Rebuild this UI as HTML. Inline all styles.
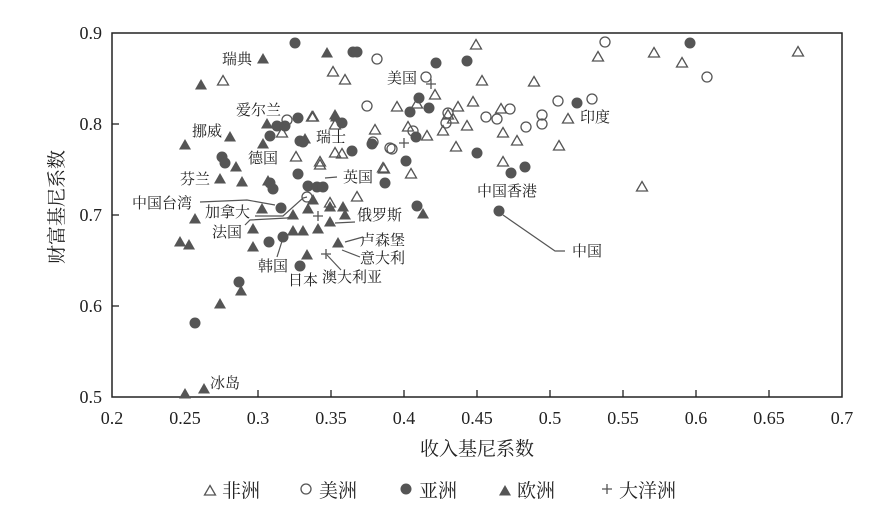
<!DOCTYPE html>
<html><head><meta charset="utf-8"><style>
html,body{margin:0;padding:0;background:#fff;}
svg{display:block;}
.t{font-family:"Liberation Serif","Noto Serif CJK SC",serif;fill:#222;}
</style></head><body>
<svg width="889" height="506" viewBox="0 0 889 506" xmlns="http://www.w3.org/2000/svg">
<defs>
<g id="ft"><path d="M0,-6 L6,4.5 L-6,4.5 Z" fill="#555"/></g>
<g id="ot"><path d="M0,-5.5 L5.5,4 L-5.5,4 Z" fill="none" stroke="#555" stroke-width="1.3"/></g>
<g id="fc"><circle r="5.5" fill="#555"/></g>
<g id="oc"><circle r="5" fill="none" stroke="#555" stroke-width="1.3"/></g>
<g id="pl"><path d="M-5,0 H5 M0,-5 V5" stroke="#555" stroke-width="1.3"/></g>
</defs>
<!-- frame -->
<rect x="112" y="33" width="730" height="364" fill="none" stroke="#222" stroke-width="1.5"/>
<g stroke="#222" stroke-width="1.3">
<line x1="112" y1="306" x2="119" y2="306"/><line x1="112" y1="215" x2="119" y2="215"/><line x1="112" y1="124" x2="119" y2="124"/>
<line x1="185" y1="397" x2="185" y2="390"/><line x1="258" y1="397" x2="258" y2="390"/><line x1="331" y1="397" x2="331" y2="390"/><line x1="404" y1="397" x2="404" y2="390"/><line x1="477" y1="397" x2="477" y2="390"/><line x1="550" y1="397" x2="550" y2="390"/><line x1="623" y1="397" x2="623" y2="390"/><line x1="696" y1="397" x2="696" y2="390"/><line x1="769" y1="397" x2="769" y2="390"/>
</g>
<g class="t" font-size="18" text-anchor="end">
<text x="102" y="403">0.5</text><text x="102" y="312">0.6</text><text x="102" y="221">0.7</text><text x="102" y="130">0.8</text><text x="102" y="39">0.9</text>
</g>
<g class="t" font-size="18" text-anchor="middle">
<text x="112" y="424">0.2</text><text x="185" y="424">0.25</text><text x="258" y="424">0.3</text><text x="331" y="424">0.35</text><text x="404" y="424">0.4</text><text x="477" y="424">0.45</text><text x="550" y="424">0.5</text><text x="623" y="424">0.55</text><text x="696" y="424">0.6</text><text x="769" y="424">0.65</text><text x="842" y="424">0.7</text>
</g>
<text class="t" font-size="19" x="477" y="455" text-anchor="middle">收入基尼系数</text>
<text class="t" font-size="19" x="0" y="0" text-anchor="middle" transform="translate(63,207) rotate(-90)">财富基尼系数</text>
<!-- legend -->
<g class="t" font-size="19">
<use href="#ot" x="210" y="491"/><text x="222" y="497">非洲</text>
<use href="#oc" x="306" y="489"/><text x="319" y="497">美洲</text>
<use href="#fc" x="406" y="489"/><text x="419" y="497">亚洲</text>
<use href="#ft" x="505" y="491"/><text x="517" y="497">欧洲</text>
<use href="#pl" x="607" y="489"/><text x="619" y="497">大洋洲</text>
</g>
<!-- leader lines -->
<g stroke="#555" stroke-width="1.2" fill="none">
<polyline points="200,202 247,200 275,205"/>
<polyline points="255,216 283,216 303,198 307,197"/>
<polyline points="245,225 250,220 287,218 293,215"/>
<polyline points="277,257 283,238"/>
<polyline points="341,270 327,255"/>
<polyline points="363,237 345,242"/>
<polyline points="360,257 342,250"/>
<polyline points="355,222 335,223"/>
<polyline points="337,177 325,178"/>
<polyline points="503,215 555,251 565,251"/>
</g>
<!-- europe -->
<g>
<use href="#ft" x="263" y="59"/><use href="#ft" x="201" y="85"/><use href="#ft" x="327" y="53"/><use href="#ft" x="185" y="145"/><use href="#ft" x="230" y="137"/><use href="#ft" x="267" y="124"/><use href="#ft" x="263" y="144"/><use href="#ft" x="236" y="167"/><use href="#ft" x="220" y="179"/><use href="#ft" x="242" y="182"/><use href="#ft" x="268" y="181"/><use href="#ft" x="262" y="209"/><use href="#ft" x="195" y="219"/><use href="#ft" x="305" y="139"/><use href="#ft" x="336" y="117"/><use href="#ft" x="313" y="200"/><use href="#ft" x="308" y="209"/><use href="#ft" x="330" y="207"/><use href="#ft" x="343" y="207"/><use href="#ft" x="293" y="215"/><use href="#ft" x="345" y="215"/><use href="#ft" x="253" y="229"/><use href="#ft" x="293" y="231"/><use href="#ft" x="303" y="231"/><use href="#ft" x="318" y="229"/><use href="#ft" x="330" y="222"/><use href="#ft" x="253" y="247"/><use href="#ft" x="307" y="255"/><use href="#ft" x="338" y="243"/><use href="#ft" x="180" y="242"/><use href="#ft" x="189" y="245"/><use href="#ft" x="220" y="304"/><use href="#ft" x="241" y="291"/><use href="#ft" x="185" y="394"/><use href="#ft" x="204" y="389"/><use href="#ft" x="335" y="115"/><use href="#ft" x="423" y="214"/>
</g>
<!-- asia -->
<g>
<use href="#fc" x="295" y="43"/><use href="#fc" x="353" y="52"/><use href="#fc" x="357" y="52"/><use href="#fc" x="298" y="118"/><use href="#fc" x="277" y="126"/><use href="#fc" x="285" y="126"/><use href="#fc" x="270" y="136"/><use href="#fc" x="342" y="123"/><use href="#fc" x="300" y="141"/><use href="#fc" x="303" y="142"/><use href="#fc" x="222" y="157"/><use href="#fc" x="225" y="163"/><use href="#fc" x="352" y="151"/><use href="#fc" x="372" y="144"/><use href="#fc" x="298" y="174"/><use href="#fc" x="270" y="183"/><use href="#fc" x="273" y="189"/><use href="#fc" x="308" y="186"/><use href="#fc" x="317" y="187"/><use href="#fc" x="323" y="187"/><use href="#fc" x="281" y="208"/><use href="#fc" x="385" y="183"/><use href="#fc" x="283" y="237"/><use href="#fc" x="269" y="242"/><use href="#fc" x="300" y="266"/><use href="#fc" x="239" y="282"/><use href="#fc" x="195" y="323"/>
<use href="#fc" x="690" y="43"/><use href="#fc" x="436" y="63"/><use href="#fc" x="467" y="61"/><use href="#fc" x="419" y="98"/><use href="#fc" x="410" y="112"/><use href="#fc" x="429" y="108"/><use href="#fc" x="577" y="103"/><use href="#fc" x="416" y="137"/><use href="#fc" x="477" y="153"/><use href="#fc" x="406" y="161"/><use href="#fc" x="525" y="167"/><use href="#fc" x="511" y="173"/><use href="#fc" x="417" y="206"/><use href="#fc" x="499" y="211"/>
</g>
<!-- africa -->
<g>
<use href="#ot" x="223" y="81"/><use href="#ot" x="333" y="72"/><use href="#ot" x="345" y="80"/><use href="#ot" x="312" y="117"/><use href="#ot" x="282" y="133"/><use href="#ot" x="375" y="130"/><use href="#ot" x="335" y="125"/><use href="#ot" x="296" y="157"/><use href="#ot" x="320" y="162"/><use href="#ot" x="320" y="165"/><use href="#ot" x="335" y="153"/><use href="#ot" x="342" y="154"/><use href="#ot" x="383" y="168"/><use href="#ot" x="357" y="197"/><use href="#ot" x="330" y="203"/><use href="#ot" x="313" y="117"/>
<use href="#ot" x="476" y="45"/><use href="#ot" x="598" y="57"/><use href="#ot" x="654" y="53"/><use href="#ot" x="682" y="63"/><use href="#ot" x="798" y="52"/><use href="#ot" x="482" y="81"/><use href="#ot" x="534" y="82"/><use href="#ot" x="435" y="95"/><use href="#ot" x="397" y="107"/><use href="#ot" x="417" y="104"/><use href="#ot" x="458" y="107"/><use href="#ot" x="473" y="102"/><use href="#ot" x="501" y="109"/><use href="#ot" x="568" y="119"/><use href="#ot" x="408" y="127"/><use href="#ot" x="427" y="136"/><use href="#ot" x="443" y="131"/><use href="#ot" x="467" y="126"/><use href="#ot" x="503" y="133"/><use href="#ot" x="517" y="141"/><use href="#ot" x="456" y="147"/><use href="#ot" x="559" y="146"/><use href="#ot" x="503" y="162"/><use href="#ot" x="384" y="169"/><use href="#ot" x="411" y="174"/><use href="#ot" x="642" y="187"/><use href="#ot" x="448" y="115"/><use href="#ot" x="453" y="119"/>
</g>
<!-- americas -->
<g>
<use href="#oc" x="377" y="59"/><use href="#oc" x="367" y="106"/><use href="#oc" x="287" y="120"/><use href="#oc" x="373" y="142"/><use href="#oc" x="307" y="197"/><use href="#oc" x="390" y="148"/>
<use href="#oc" x="605" y="42"/><use href="#oc" x="707" y="77"/><use href="#oc" x="426" y="77"/><use href="#oc" x="558" y="101"/><use href="#oc" x="592" y="99"/><use href="#oc" x="510" y="109"/><use href="#oc" x="486" y="117"/><use href="#oc" x="497" y="119"/><use href="#oc" x="542" y="115"/><use href="#oc" x="542" y="124"/><use href="#oc" x="526" y="127"/><use href="#oc" x="448" y="113"/><use href="#oc" x="446" y="123"/><use href="#oc" x="413" y="131"/><use href="#oc" x="392" y="149"/>
</g>
<!-- oceania -->
<g>
<use href="#pl" x="318" y="216"/><use href="#pl" x="326" y="254"/><use href="#pl" x="431" y="84"/><use href="#pl" x="404" y="143"/>
</g>
<!-- labels -->
<g class="t" font-size="15">
<text x="222" y="64">瑞典</text>
<text x="236" y="115">爱尔兰</text>
<text x="192" y="136">挪威</text>
<text x="248" y="163">德国</text>
<text x="180" y="184">芬兰</text>
<text x="316" y="142">瑞士</text>
<text x="343" y="182">英国</text>
<text x="132" y="208">中国台湾</text>
<text x="205" y="217">加拿大</text>
<text x="212" y="237">法国</text>
<text x="357" y="220">俄罗斯</text>
<text x="360" y="245">卢森堡</text>
<text x="360" y="263">意大利</text>
<text x="258" y="271">韩国</text>
<text x="288" y="285">日本</text>
<text x="322" y="282">澳大利亚</text>
<text x="210" y="388">冰岛</text>
<text x="387" y="83">美国</text>
<text x="580" y="122">印度</text>
<text x="477" y="196">中国香港</text>
<text x="572" y="256">中国</text>
</g>
</svg>
</body></html>
